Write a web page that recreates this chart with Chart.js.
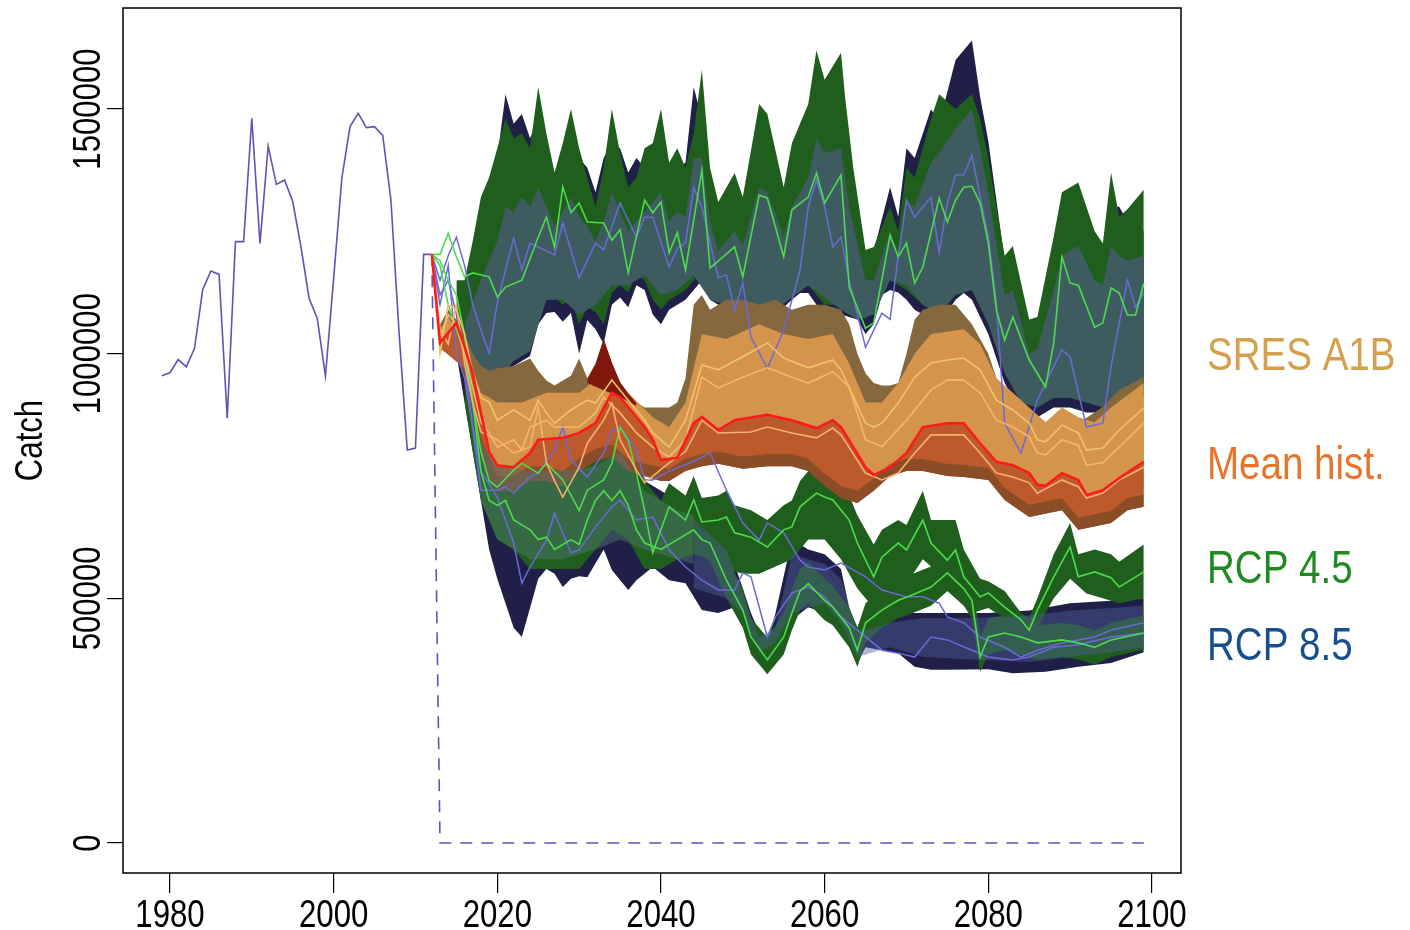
<!DOCTYPE html>
<html>
<head>
<meta charset="utf-8">
<script src="https://cdn.jsdelivr.net/npm/chart.js@4.4.1/dist/chart.umd.min.js"></script>
<style>
  html, body { margin: 0; padding: 0; background: #ffffff; }
  #wrap { width: 1410px; height: 930px; }
</style>
</head>
<body>
<div id="wrap"><canvas id="c" width="1410" height="930"></canvas></div>
<script>
// ---- axis ticks ----
const xTicks = [1980, 2000, 2020, 2040, 2060, 2080, 2100];
const yTicks = [0, 500000, 1000000, 1500000];
const yTitle = 'Catch';

// ---- observed catch ----
const histYears = [1979,1980,1981,1982,1983,1984,1985,1986,1987,1988,1989,1990,1991,1992,1993,1994,1995,1996,1997,1998,1999,2000,2001,2002,2003,2004,2005,2006,2007,2008,2009,2010,2011,2012];
const histCatch = [955000,961000,988000,973000,1011000,1131000,1169000,1162000,868000,1229000,1229000,1481000,1225000,1424000,1346000,1355000,1311000,1219000,1113000,1072000,954000,1154000,1358000,1464000,1491000,1462000,1464000,1446000,1314000,1042000,803000,807000,1203000,1203000];

// zero-catch reference (dashed)
const zeroCatch = [[2012,1203000],[2013,0],[2099,0]];

// ---- projected members [year, catch] ----
const meanHist = [[2012,1203000],[2013,1022000],[2015,1063000],[2016,1014000],[2017,960000],[2018,880000],[2019,800000],[2020,772000],[2022,768000],[2024,797000],[2025,824000],[2028,828000],[2030,838000],[2032,858000],[2034,920000],[2035,911000],[2038,850000],[2039,824000],[2040,783000],[2042,787000],[2044,858000],[2045,871000],[2047,844000],[2049,864000],[2053,875000],[2056,864000],[2059,848000],[2061,864000],[2062,850000],[2065,768000],[2066,752000],[2068,768000],[2070,797000],[2072,850000],[2075,858000],[2077,858000],[2079,817000],[2081,779000],[2083,772000],[2085,756000],[2086,732000],[2087,730000],[2089,756000],[2091,742000],[2092,711000],[2094,721000],[2096,746000],[2099,779000]];

const sresA = [[2012,1203000],[2013,1000000],[2014,1100000],[2015,1090000],[2016,1040000],[2017,960000],[2018,910000],[2019,901000],[2020,864000],[2022,885000],[2024,864000],[2025,905000],[2026,879000],[2027,858000],[2029,885000],[2031,905000],[2032,899000],[2034,946000],[2036,905000],[2038,864000],[2039,838000],[2041,809000],[2043,864000],[2045,977000],[2047,967000],[2051,1003000],[2053,1022000],[2055,991000],[2058,971000],[2061,987000],[2062,967000],[2065,858000],[2066,850000],[2067,858000],[2069,899000],[2071,952000],[2073,981000],[2075,987000],[2077,991000],[2079,967000],[2081,905000],[2083,885000],[2085,858000],[2086,824000],[2087,820000],[2089,854000],[2091,838000],[2092,803000],[2094,807000],[2096,844000],[2099,889000]];
const sresB = [[2012,1203000],[2013,1030000],[2014,1080000],[2015,1060000],[2016,1000000],[2017,930000],[2018,860000],[2019,838000],[2020,809000],[2022,824000],[2023,803000],[2024,850000],[2026,864000],[2027,850000],[2030,850000],[2032,879000],[2033,911000],[2035,879000],[2037,838000],[2039,809000],[2041,789000],[2043,824000],[2045,952000],[2047,930000],[2050,952000],[2053,971000],[2056,952000],[2058,940000],[2061,963000],[2063,932000],[2065,824000],[2067,810000],[2070,864000],[2073,926000],[2075,946000],[2077,946000],[2079,920000],[2081,864000],[2083,850000],[2085,830000],[2086,797000],[2087,793000],[2089,824000],[2091,813000],[2092,772000],[2094,777000],[2096,809000],[2099,858000]];
const sresC = [[2012,1203000],[2013,1050000],[2014,1020000],[2015,1100000],[2016,980000],[2017,900000],[2018,840000],[2020,824000],[2022,797000],[2024,809000],[2025,891000],[2026,777000],[2027,740000],[2028,707000],[2030,768000],[2031,817000],[2033,864000],[2034,899000],[2035,824000],[2037,762000],[2038,736000],[2041,777000],[2043,800000],[2045,864000],[2047,838000],[2051,840000],[2053,850000],[2056,838000],[2059,828000],[2061,848000],[2062,834000],[2065,756000],[2067,742000],[2069,756000],[2071,797000],[2073,834000],[2077,834000],[2079,797000],[2081,756000],[2083,748000],[2085,736000],[2086,715000],[2089,742000],[2091,728000],[2092,705000],[2094,715000],[2096,742000],[2099,768000]];

const rcp45High = [[2012,1203000],[2013,1203000],[2014,1246000],[2015,1198000],[2016,1157000],[2017,1165000],[2019,1157000],[2020,1116000],[2021,1136000],[2023,1150000],[2025,1238000],[2026,1279000],[2027,1218000],[2028,1341000],[2029,1288000],[2030,1308000],[2031,1269000],[2033,1267000],[2034,1232000],[2035,1253000],[2036,1165000],[2038,1314000],[2039,1288000],[2040,1310000],[2041,1206000],[2042,1247000],[2043,1171000],[2045,1375000],[2046,1175000],[2049,1218000],[2050,1157000],[2052,1324000],[2053,1318000],[2055,1198000],[2056,1294000],[2058,1320000],[2059,1369000],[2060,1308000],[2062,1365000],[2063,1136000],[2065,1052000],[2066,1063000],[2068,1242000],[2069,1198000],[2070,1226000],[2071,1144000],[2072,1177000],[2074,1318000],[2075,1269000],[2076,1314000],[2077,1340000],[2078,1342000],[2079,1308000],[2080,1226000],[2081,1089000],[2082,1028000],[2083,1075000],[2085,987000],[2087,932000],[2088,1022000],[2089,1198000],[2090,1144000],[2091,1140000],[2093,1054000],[2094,1063000],[2095,1134000],[2096,1124000],[2097,1079000],[2098,1079000],[2099,1144000]];
const rcp45Mid = [[2012,1203000],[2013,1180000],[2014,1100000],[2015,1050000],[2016,1000000],[2017,900000],[2018,800000],[2019,740000],[2020,727000],[2022,762000],[2023,776000],[2025,756000],[2026,776000],[2028,742000],[2030,680000],[2031,721000],[2033,742000],[2034,776000],[2035,850000],[2036,823000],[2037,756000],[2038,680000],[2039,593000],[2040,640000],[2041,687000],[2043,660000],[2044,701000],[2045,656000],[2047,660000],[2048,666000],[2049,634000],[2051,625000],[2053,605000],[2055,640000],[2056,646000],[2057,687000],[2058,701000],[2059,715000],[2060,707000],[2061,701000],[2063,660000],[2064,613000],[2066,544000],[2067,584000],[2069,613000],[2070,599000],[2072,660000],[2073,613000],[2075,578000],[2076,599000],[2077,544000],[2079,503000],[2080,511000],[2082,482000],[2084,456000],[2085,435000],[2086,476000],[2088,544000],[2090,605000],[2091,544000],[2093,554000],[2095,542000],[2096,523000],[2099,554000]];
const rcp45Low = [[2012,1203000],[2013,1190000],[2014,1150000],[2015,1120000],[2016,1040000],[2017,900000],[2018,760000],[2019,700000],[2020,690000],[2021,700000],[2022,660000],[2023,650000],[2024,640000],[2025,620000],[2026,625000],[2027,600000],[2028,610000],[2029,620000],[2030,610000],[2031,660000],[2032,700000],[2033,720000],[2034,700000],[2035,720000],[2036,690000],[2037,640000],[2038,613000],[2040,600000],[2042,620000],[2044,640000],[2045,620000],[2046,613000],[2048,537000],[2050,476000],[2051,421000],[2053,374000],[2055,421000],[2056,470000],[2057,515000],[2058,530000],[2060,496000],[2061,482000],[2063,440000],[2064,394000],[2065,450000],[2067,476000],[2069,496000],[2070,502000],[2073,523000],[2075,552000],[2077,520000],[2078,496000],[2079,380000],[2080,421000],[2082,429000],[2084,421000],[2086,409000],[2089,415000],[2091,409000],[2093,400000],[2095,415000],[2099,429000]];

const rcp85High = [[2012,1203000],[2013,1150000],[2014,1200000],[2015,1238000],[2016,1180000],[2017,1100000],[2018,1048000],[2019,1001000],[2020,1104000],[2022,1236000],[2023,1171000],[2024,1226000],[2025,1218000],[2027,1202000],[2028,1267000],[2030,1155000],[2032,1226000],[2033,1212000],[2035,1308000],[2037,1238000],[2038,1279000],[2039,1279000],[2041,1177000],[2042,1215000],[2043,1226000],[2044,1339000],[2045,1300000],[2047,1155000],[2048,1161000],[2049,1089000],[2050,1144000],[2051,1034000],[2053,970000],[2055,1048000],[2057,1171000],[2058,1300000],[2059,1355000],[2060,1300000],[2061,1218000],[2062,1238000],[2063,1150000],[2065,1013000],[2067,1083000],[2068,1070000],[2069,1200000],[2070,1314000],[2071,1279000],[2073,1320000],[2074,1206000],[2075,1308000],[2076,1365000],[2077,1365000],[2078,1406000],[2079,1320000],[2080,1240000],[2081,1100000],[2082,858000],[2084,797000],[2086,905000],[2089,1008000],[2090,993000],[2092,850000],[2094,858000],[2095,973000],[2097,1150000],[2098,1095000],[2099,1124000]];
const rcp85Mid = [[2012,1203000],[2013,1120000],[2014,1150000],[2015,1080000],[2016,980000],[2017,850000],[2018,721000],[2020,721000],[2021,728000],[2022,715000],[2024,748000],[2025,756000],[2027,803000],[2028,850000],[2029,783000],[2031,748000],[2033,797000],[2034,844000],[2035,850000],[2037,803000],[2038,742000],[2039,742000],[2041,760000],[2044,780000],[2046,797000],[2048,721000],[2050,654000],[2052,619000],[2053,654000],[2055,634000],[2057,578000],[2058,564000],[2060,558000],[2062,572000],[2065,544000],[2067,517000],[2070,503000],[2072,503000],[2074,490000],[2075,462000],[2077,450000],[2079,421000],[2082,400000],[2084,380000],[2086,394000],[2089,409000],[2091,415000],[2093,421000],[2095,435000],[2099,450000]];
const rcp85Low = [[2012,1203000],[2013,1100000],[2014,1180000],[2015,1000000],[2016,950000],[2017,850000],[2018,760000],[2020,707000],[2022,613000],[2023,531000],[2024,564000],[2026,619000],[2027,674000],[2029,593000],[2030,599000],[2032,646000],[2034,687000],[2035,701000],[2037,660000],[2039,666000],[2041,599000],[2043,564000],[2045,537000],[2047,517000],[2049,517000],[2050,552000],[2051,544000],[2053,421000],[2054,462000],[2056,511000],[2058,523000],[2060,503000],[2062,462000],[2064,435000],[2067,394000],[2069,388000],[2071,380000],[2073,421000],[2075,415000],[2078,394000],[2080,380000],[2083,374000],[2085,380000],[2088,400000],[2091,405000],[2095,421000],[2099,429000]];

// ---- ensemble envelopes [year, catch] ----
const upperNavyHi = [[2015,1050000],[2016,1100000],[2018,1250000],[2020,1400000],[2021,1530000],[2022,1470000],[2023,1490000],[2024,1440000],[2025,1480000],[2026,1420000],[2027,1330000],[2028,1380000],[2029,1420000],[2030,1400000],[2031,1380000],[2032,1330000],[2033,1400000],[2034,1430000],[2035,1420000],[2036,1370000],[2037,1400000],[2038,1380000],[2040,1420000],[2041,1370000],[2042,1380000],[2043,1390000],[2044,1545000],[2045,1480000],[2046,1360000],[2047,1290000],[2049,1340000],[2050,1300000],[2052,1440000],[2053,1450000],[2055,1320000],[2056,1400000],[2058,1460000],[2059,1520000],[2060,1500000],[2062,1500000],[2063,1400000],[2065,1200000],[2066,1210000],[2068,1340000],[2069,1280000],[2070,1420000],[2071,1400000],[2073,1500000],[2074,1470000],[2076,1600000],[2078,1640000],[2079,1525000],[2080,1435000],[2082,1190000],[2083,1200000],[2085,1050000],[2086,1060000],[2088,1200000],[2089,1280000],[2091,1300000],[2093,1230000],[2094,1220000],[2095,1300000],[2096,1300000],[2097,1270000],[2099,1250000]];
const upperNavyLo = [[2015,1000000],[2016,1020000],[2018,960000],[2020,950000],[2021,965000],[2022,975000],[2023,985000],[2024,995000],[2025,1060000],[2026,1083000],[2027,1085000],[2028,1065000],[2029,1083000],[2030,1000000],[2031,1069000],[2032,1050000],[2033,1020000],[2034,1100000],[2035,1115000],[2036,1095000],[2037,1140000],[2038,1130000],[2039,1080000],[2040,1060000],[2041,1090000],[2042,1100000],[2043,1110000],[2044,1130000],[2045,1150000],[2046,1110000],[2048,1090000],[2050,1080000],[2052,1080000],[2054,1080000],[2056,1110000],[2057,1124000],[2058,1124000],[2059,1100000],[2060,1080000],[2062,1080000],[2064,1070000],[2065,1040000],[2066,1060000],[2067,1120000],[2068,1130000],[2069,1125000],[2070,1110000],[2071,1090000],[2072,1080000],[2074,1060000],[2076,1110000],[2077,1124000],[2078,1110000],[2080,1040000],[2082,940000],[2084,880000],[2086,870000],[2088,890000],[2090,890000],[2092,880000],[2094,880000],[2096,900000],[2099,915000]];
const upperGreenHi = [[2015,1150000],[2016,1150000],[2017,1230000],[2018,1320000],[2019,1360000],[2020,1420000],[2021,1480000],[2022,1440000],[2023,1450000],[2024,1420000],[2025,1545000],[2026,1450000],[2027,1370000],[2028,1430000],[2029,1500000],[2030,1420000],[2031,1360000],[2032,1300000],[2033,1380000],[2034,1500000],[2035,1410000],[2036,1340000],[2037,1360000],[2038,1420000],[2039,1430000],[2040,1500000],[2041,1390000],[2042,1420000],[2043,1380000],[2044,1450000],[2045,1580000],[2046,1380000],[2047,1310000],[2049,1369000],[2050,1320000],[2052,1510000],[2053,1490000],[2055,1340000],[2056,1430000],[2058,1510000],[2059,1620000],[2060,1560000],[2062,1615000],[2062.5,1525000],[2063.5,1380000],[2065,1212000],[2066,1218000],[2068,1300000],[2069,1250000],[2070,1380000],[2071,1360000],[2073,1480000],[2074,1530000],[2076,1500000],[2078,1530000],[2079,1480000],[2080,1400000],[2082,1200000],[2083,1220000],[2085,1070000],[2086,1075000],[2088,1240000],[2089,1330000],[2091,1350000],[2093,1250000],[2094,1225000],[2095,1370000],[2096,1280000],[2097,1295000],[2099,1335000]];
const upperGreenLo = [[2015,1030000],[2016,1040000],[2018,990000],[2020,980000],[2022,990000],[2024,1010000],[2025,1100000],[2026,1110000],[2027,1115000],[2028,1100000],[2029,1110000],[2030,1060000],[2031,1095000],[2032,1085000],[2033,1060000],[2034,1125000],[2035,1140000],[2036,1125000],[2037,1160000],[2038,1150000],[2039,1110000],[2040,1090000],[2041,1110000],[2042,1120000],[2043,1130000],[2044,1150000],[2045,1165000],[2046,1130000],[2048,1110000],[2050,1100000],[2054,1100000],[2056,1130000],[2058,1140000],[2060,1100000],[2062,1100000],[2064,1090000],[2065,1070000],[2066,1090000],[2067,1140000],[2068,1150000],[2070,1130000],[2072,1100000],[2074,1085000],[2076,1130000],[2078,1130000],[2080,1070000],[2082,970000],[2084,900000],[2086,890000],[2088,910000],[2090,910000],[2092,900000],[2094,900000],[2096,920000],[2099,935000]];
const upperCoreHi = [[2016,1060000],[2018,1150000],[2020,1230000],[2021,1300000],[2022,1290000],[2023,1320000],[2024,1300000],[2025,1340000],[2026,1300000],[2027,1260000],[2028,1290000],[2029,1320000],[2030,1280000],[2031,1260000],[2032,1230000],[2033,1270000],[2034,1330000],[2035,1290000],[2036,1250000],[2037,1270000],[2038,1290000],[2040,1330000],[2041,1270000],[2042,1290000],[2043,1280000],[2044,1400000],[2045,1400000],[2046,1270000],[2047,1210000],[2049,1250000],[2050,1220000],[2052,1340000],[2053,1330000],[2055,1240000],[2056,1300000],[2058,1360000],[2059,1440000],[2060,1410000],[2062,1420000],[2063,1300000],[2065,1150000],[2066,1150000],[2068,1250000],[2069,1200000],[2070,1310000],[2071,1300000],[2073,1390000],[2074,1410000],[2076,1460000],[2078,1500000],[2079,1420000],[2080,1330000],[2082,1120000],[2083,1130000],[2085,1000000],[2086,1010000],[2088,1130000],[2089,1200000],[2091,1220000],[2093,1150000],[2094,1140000],[2095,1220000],[2096,1200000],[2097,1190000],[2099,1200000]];
const upperCoreLo = [[2016,1000000],[2018,960000],[2020,945000],[2022,985000],[2024,1005000],[2026,1110000],[2028,1110000],[2030,1080000],[2032,1100000],[2034,1140000],[2036,1140000],[2038,1160000],[2040,1120000],[2042,1130000],[2044,1160000],[2046,1110000],[2050,1090000],[2054,1090000],[2058,1140000],[2062,1090000],[2064,1070000],[2066,1080000],[2068,1150000],[2070,1140000],[2072,1100000],[2074,1080000],[2076,1120000],[2078,1130000],[2080,1060000],[2082,960000],[2084,900000],[2086,890000],[2088,910000],[2090,910000],[2092,900000],[2094,890000],[2096,910000],[2099,930000]];

const sresHi = [[2013,1060000],[2014,1090000],[2015,1070000],[2016,1040000],[2017,1000000],[2018,975000],[2019,965000],[2020,970000],[2022,975000],[2024,990000],[2025,965000],[2026,945000],[2027,935000],[2028,945000],[2029,955000],[2030,990000],[2031,950000],[2032,980000],[2033,1030000],[2034,980000],[2035,940000],[2036,920000],[2037,900000],[2038,890000],[2040,890000],[2041,890000],[2042,900000],[2043,950000],[2044,1100000],[2045,1120000],[2046,1090000],[2048,1110000],[2050,1110000],[2052,1100000],[2054,1110000],[2056,1090000],[2058,1100000],[2060,1100000],[2062,1090000],[2063,1060000],[2064,1000000],[2065,960000],[2066,940000],[2067,935000],[2068,935000],[2069,940000],[2070,1000000],[2071,1070000],[2072,1090000],[2074,1100000],[2076,1100000],[2078,1060000],[2080,1000000],[2081,950000],[2083,910000],[2085,879000],[2087,850000],[2089,879000],[2091,858000],[2094,891000],[2096,926000],[2099,952000]];
const sresLo = [[2013,1005000],[2014,1015000],[2015,995000],[2016,950000],[2017,880000],[2018,800000],[2019,740000],[2020,720000],[2022,720000],[2024,740000],[2026,740000],[2028,730000],[2030,760000],[2032,780000],[2034,790000],[2036,760000],[2038,750000],[2040,740000],[2041,740000],[2043,760000],[2045,770000],[2047,775000],[2050,765000],[2053,770000],[2056,770000],[2058,760000],[2060,730000],[2062,705000],[2064,695000],[2066,720000],[2068,750000],[2070,760000],[2072,760000],[2075,750000],[2077,748000],[2080,742000],[2082,701000],[2085,666000],[2089,680000],[2091,640000],[2095,654000],[2097,680000],[2099,687000]];
const sresCoreHi = [[2013,1050000],[2014,1075000],[2016,1020000],[2018,920000],[2020,900000],[2023,900000],[2026,920000],[2030,920000],[2033,960000],[2036,920000],[2039,870000],[2041,850000],[2043,900000],[2045,1040000],[2048,1030000],[2052,1060000],[2055,1040000],[2058,1030000],[2061,1040000],[2063,980000],[2065,900000],[2067,900000],[2069,940000],[2071,1000000],[2073,1040000],[2077,1050000],[2079,1020000],[2081,950000],[2083,920000],[2085,890000],[2087,860000],[2089,890000],[2091,870000],[2093,860000],[2095,890000],[2099,940000]];
const histBandLo = [[2013,1012000],[2016,970000],[2018,830000],[2020,750000],[2022,750000],[2024,770000],[2026,770000],[2028,760000],[2030,785000],[2032,805000],[2034,815000],[2036,785000],[2038,775000],[2041,765000],[2043,785000],[2045,795000],[2047,800000],[2050,790000],[2053,795000],[2056,795000],[2058,785000],[2060,755000],[2062,730000],[2064,720000],[2066,745000],[2068,775000],[2070,785000],[2072,785000],[2075,775000],[2077,773000],[2080,767000],[2082,726000],[2085,691000],[2089,705000],[2091,665000],[2095,679000],[2097,705000],[2099,712000]];
const histPeakHi = [[2031,948000],[2032,978000],[2033,1030000],[2034,982000],[2035,942000],[2036,918000],[2037,899000]];
const histPeakLo = [[2031,940000],[2033,925000],[2035,912000],[2037,893000]];

const lowerNavyHi = [[2015,1050000],[2016,980000],[2018,860000],[2020,800000],[2022,780000],[2025,770000],[2030,770000],[2035,770000],[2040,720000],[2042,700000],[2044,690000],[2046,680000],[2048,620000],[2050,520000],[2051,470000],[2052,430000],[2053,410000],[2054,470000],[2056,620000],[2058,600000],[2060,590000],[2062,560000],[2063,480000],[2064,440000],[2066,450000],[2068,460000],[2070,470000],[2072,470000],[2075,470000],[2078,470000],[2080,470000],[2085,475000],[2090,490000],[2095,495000],[2099,500000]];
const lowerNavyLo = [[2015,1000000],[2016,900000],[2017,800000],[2018,700000],[2019,600000],[2020,540000],[2021,490000],[2022,440000],[2023,421000],[2024,480000],[2025,540000],[2026,560000],[2027,550000],[2028,523000],[2029,540000],[2030,545000],[2031,543000],[2033,600000],[2034,558000],[2036,517000],[2037,537000],[2039,564000],[2041,537000],[2043,531000],[2045,476000],[2047,470000],[2049,482000],[2050,450000],[2052,380000],[2053,360000],[2054,394000],[2056,456000],[2058,482000],[2060,470000],[2062,440000],[2063,421000],[2064,368000],[2065,400000],[2067,394000],[2069,388000],[2071,360000],[2073,354000],[2075,354000],[2080,355000],[2083,347000],[2087,350000],[2091,360000],[2095,368000],[2099,390000]];
const lowerGreenHi = [[2016,1000000],[2018,850000],[2020,790000],[2022,800000],[2024,800000],[2026,810000],[2028,790000],[2030,760000],[2032,790000],[2034,830000],[2035,880000],[2036,860000],[2038,740000],[2040,700000],[2041,735000],[2043,710000],[2044,750000],[2045,705000],[2047,710000],[2048,720000],[2049,690000],[2051,680000],[2053,660000],[2055,690000],[2056,700000],[2057,740000],[2058,760000],[2059,770000],[2060,760000],[2061,750000],[2063,710000],[2064,670000],[2066,610000],[2067,640000],[2069,660000],[2070,650000],[2072,720000],[2073,660000],[2075,660000],[2076,660000],[2077,600000],[2079,540000],[2080,535000],[2082,515000],[2084,470000],[2085,460000],[2086,500000],[2088,590000],[2090,654000],[2091,590000],[2093,600000],[2095,590000],[2096,575000],[2099,610000]];
const lowerGreenLo = [[2016,900000],[2018,700000],[2020,620000],[2022,600000],[2024,560000],[2026,560000],[2028,560000],[2030,560000],[2032,600000],[2034,640000],[2036,620000],[2038,560000],[2040,560000],[2042,580000],[2044,590000],[2046,580000],[2048,560000],[2050,550000],[2052,550000],[2054,565000],[2056,580000],[2058,620000],[2060,620000],[2062,580000],[2064,520000],[2066,480000],[2068,520000],[2070,530000],[2072,580000],[2074,550000],[2076,520000],[2078,470000],[2080,480000],[2082,460000],[2084,430000],[2085,410000],[2086,440000],[2088,500000],[2090,540000],[2092,510000],[2094,500000],[2096,490000],[2099,500000]];
const lowerDipHi = [[2044,680000],[2046,650000],[2048,580000],[2050,520000],[2051,460000],[2053,420000],[2055,470000],[2056,520000],[2057,560000],[2058,575000],[2060,540000],[2061,525000],[2063,480000],[2064,440000],[2065,490000],[2067,520000],[2069,540000],[2070,545000],[2073,565000],[2075,595000],[2077,560000],[2078,540000],[2079,420000],[2080,460000],[2082,465000],[2084,455000],[2086,445000],[2089,450000],[2091,445000],[2093,435000],[2095,450000],[2099,465000]];
const lowerDipLo = [[2044,600000],[2046,575000],[2048,500000],[2050,440000],[2051,385000],[2053,345000],[2055,385000],[2056,435000],[2057,475000],[2058,490000],[2060,455000],[2061,445000],[2063,400000],[2064,360000],[2065,410000],[2067,440000],[2069,460000],[2070,465000],[2073,485000],[2075,515000],[2077,485000],[2078,460000],[2079,350000],[2080,385000],[2082,395000],[2084,385000],[2086,375000],[2089,380000],[2091,375000],[2093,365000],[2095,380000],[2099,395000]];
const lowerMixHi = [[2016,990000],[2018,820000],[2020,770000],[2024,760000],[2028,760000],[2032,770000],[2035,800000],[2038,720000],[2042,680000],[2044,670000]];
const lowerMixLo = [[2016,950000],[2018,700000],[2020,620000],[2024,580000],[2028,580000],[2032,600000],[2035,620000],[2038,600000],[2042,580000],[2044,570000]];
const lowerBlueHi = [[2044,660000],[2048,600000],[2050,510000],[2051,460000],[2052,420000],[2054,440000],[2056,590000],[2060,570000],[2062,540000],[2064,430000],[2068,450000],[2072,460000],[2078,460000],[2085,465000],[2090,475000],[2095,480000],[2099,485000]];
const lowerBlueLo = [[2044,520000],[2048,500000],[2050,470000],[2052,390000],[2054,410000],[2056,470000],[2060,490000],[2062,450000],[2064,380000],[2068,400000],[2072,380000],[2078,375000],[2085,370000],[2090,380000],[2095,390000],[2099,400000]];

// ---- side legend ----
const legendLabels = ['SRES A1B', 'Mean hist.', 'RCP 4.5', 'RCP 8.5'];
const legendColors = ['#d4a04e', '#e8742c', '#1f8a1f', '#174f8c'];

// ---- colours ----
const NAVY = '#1f1f47', DKGREEN = '#1f5e1c', TEAL = '#3e5c60';
const SRES_OUT = '#86683f', SRES_IN = '#d4944c', HIST_IN = '#bc5a2c', HIST_EDGE = '#8c4c26', HIST_PEAK = '#80180e';
const LOWER_MIX = 'rgba(80,115,110,0.5)', LOWER_BLUE = 'rgba(80,95,150,0.45)';
const GREEN_LINE = '#4ddc4d', BLUE_LINE = '#6a6ad8', HIST_LINE = '#5c55b4';

// narrow sans: Liberation Sans squeezed horizontally
const FONT = '"Liberation Sans", Arial, sans-serif';
const SQUEEZE = 0.82;

const toXY = arr => arr.map(([x, y]) => ({ x, y }));
const datasets = [];
function addLine(data, color, width, dash) {
  datasets.push({ data: toXY(data), borderColor: color, borderWidth: width,
    borderDash: dash || [], fill: false, pointRadius: 0, tension: 0 });
}
function addBand(hi, lo, color) {
  datasets.push({ data: toXY(hi), borderWidth: 0, pointRadius: 0, fill: false });
  datasets.push({ data: toXY(lo), borderWidth: 0, pointRadius: 0, fill: '-1', backgroundColor: color });
}

// lines: first added is drawn on top
addLine(meanHist, '#ff1a1a', 2.5);
addLine(sresA, '#f0c468', 1.6);
addLine(sresB, '#f6b66c', 1.6);
addLine(sresC, '#f6b070', 1.6);
addLine(rcp45High, GREEN_LINE, 1.6);
addLine(rcp45Mid, GREEN_LINE, 1.6);
addLine(rcp45Low, GREEN_LINE, 1.6);
addLine(rcp85High, BLUE_LINE, 1.5);
addLine(rcp85Mid, BLUE_LINE, 1.5);
addLine(rcp85Low, BLUE_LINE, 1.5);
addLine(histYears.map((y, i) => [y, histCatch[i]]), HIST_LINE, 1.6);
addLine(zeroCatch, HIST_LINE, 1.6, [12, 9]);

// envelopes: first added is painted on top
addBand(lowerMixHi, lowerMixLo, LOWER_MIX);
addBand(histPeakHi, histPeakLo, HIST_PEAK);
addBand(meanHist, histBandLo, HIST_IN);
addBand(sresCoreHi, meanHist, SRES_IN);
addBand(histBandLo, sresLo, HIST_EDGE);
addBand(sresHi, sresLo, SRES_OUT);
addBand(lowerBlueHi, lowerBlueLo, LOWER_BLUE);
addBand(lowerDipHi, lowerDipLo, DKGREEN);
addBand(lowerGreenHi, lowerGreenLo, DKGREEN);
addBand(lowerNavyHi, lowerNavyLo, NAVY);
addBand(upperCoreHi, upperCoreLo, TEAL);
addBand(upperGreenHi, upperGreenLo, DKGREEN);
addBand(upperNavyHi, upperNavyLo, NAVY);

function squeezedText(ctx, text, x, y, rotate) {
  ctx.save();
  ctx.translate(x, y);
  if (rotate) ctx.rotate(-Math.PI / 2);
  ctx.scale(SQUEEZE, 1);
  ctx.fillText(text, 0, 0);
  ctx.restore();
}

const framePlugin = {
  id: 'frame',
  afterDraw(chart) {
    const ctx = chart.ctx, a = chart.chartArea, xs = chart.scales.x, ys = chart.scales.y;
    ctx.save();
    ctx.strokeStyle = '#000';
    ctx.lineWidth = 1.5;
    ctx.strokeRect(a.left, a.top, a.right - a.left, a.bottom - a.top);

    ctx.fillStyle = '#000';
    ctx.font = '38px ' + FONT;
    ctx.textAlign = 'center';
    ctx.textBaseline = 'alphabetic';
    // x tick labels
    xTicks.forEach(v => squeezedText(ctx, String(v), xs.getPixelForValue(v), 927, false));
    // y tick labels, read bottom-to-top
    yTicks.forEach(v => squeezedText(ctx, String(v), 100, ys.getPixelForValue(v), true));
    // y title
    squeezedText(ctx, yTitle, 42, (a.top + a.bottom) / 2, true);

    // scenario labels
    ctx.font = '47px ' + FONT;
    ctx.textAlign = 'left';
    const baselines = [370, 479, 583, 660];
    legendLabels.forEach((t, i) => {
      ctx.fillStyle = legendColors[i];
      squeezedText(ctx, t, 1207, baselines[i], false);
    });
    ctx.restore();
  }
};

new Chart(document.getElementById('c'), {
  type: 'line',
  data: { datasets },
  options: {
    responsive: false,
    animation: false,
    devicePixelRatio: 1,
    layout: { padding: { left: 0, right: 229, top: 8, bottom: 0 } },
    plugins: {
      legend: { display: false },
      tooltip: { enabled: false },
      filler: { drawTime: 'beforeDatasetsDraw', propagate: false }
    },
    elements: { point: { radius: 0 }, line: { tension: 0 } },
    scales: {
      x: {
        type: 'linear', min: 1974.26, max: 2103.55,
        afterBuildTicks: s => { s.ticks = xTicks.map(v => ({ value: v })); },
        afterFit: s => { s.height = 57; },
        border: { display: false },
        grid: { display: true, drawOnChartArea: false, drawTicks: true, tickLength: 20, color: '#000', lineWidth: 1.2 },
        ticks: { display: false }
      },
      y: {
        type: 'linear', min: -61300, max: 1706400,
        afterBuildTicks: s => { s.ticks = yTicks.map(v => ({ value: v })); },
        afterFit: s => { s.width = 123; },
        border: { display: false },
        grid: { display: true, drawOnChartArea: false, drawTicks: true, tickLength: 16, color: '#000', lineWidth: 1.2 },
        ticks: { display: false },
        title: { display: false }
      }
    }
  },
  plugins: [framePlugin]
});
</script>
</body>
</html>
